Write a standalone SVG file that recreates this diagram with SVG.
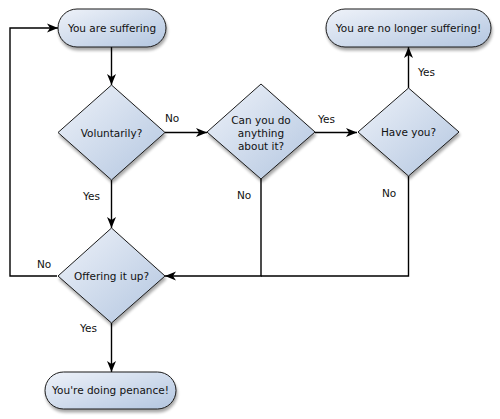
<svg xmlns="http://www.w3.org/2000/svg" width="500" height="419" viewBox="0 0 500 419">
<defs>
<linearGradient id="g" x1="0" y1="0" x2="1" y2="1">
<stop offset="0" stop-color="#eef2f9"/>
<stop offset="1" stop-color="#b3c6e0"/>
</linearGradient>
<filter id="sh" x="-20%" y="-20%" width="150%" height="160%">
<feGaussianBlur in="SourceAlpha" stdDeviation="1.5"/>
<feOffset dx="1" dy="3" result="b"/>
<feComponentTransfer><feFuncA type="linear" slope="0.35"/></feComponentTransfer>
<feMerge><feMergeNode/><feMergeNode in="SourceGraphic"/></feMerge>
</filter>
<marker id="ah" markerWidth="12" markerHeight="10" refX="11" refY="5" orient="auto" markerUnits="userSpaceOnUse">
<path d="M0,0.5 L11,5 L0,9.5 L3,5 z" fill="#000"/>
</marker>
</defs>
<style>
.n{fill:url(#g);stroke:#1a1a1a;stroke-width:1;filter:url(#sh)}
.t{font-family:"DejaVu Sans",sans-serif;font-size:10.5px;fill:#111;text-anchor:middle}
.l{font-family:"DejaVu Sans",sans-serif;font-size:10.5px;fill:#111}
.c{fill:none;stroke:#000;stroke-width:1.4}
</style>
<rect width="500" height="419" fill="#fff"/>
<g id="connectors">
<path class="c" d="M111.5,47 L111.5,85" marker-end="url(#ah)"/>
<path class="c" d="M165,132.5 L207,132.5" marker-end="url(#ah)"/>
<path class="c" d="M315,132.5 L357,132.5" marker-end="url(#ah)"/>
<path class="c" d="M408.5,88 L408.5,47" marker-end="url(#ah)"/>
<path class="c" d="M111.5,180 L111.5,228" marker-end="url(#ah)"/>
<path class="c" d="M261,179 L261,276 L165,276" marker-end="url(#ah)"/>
<path class="c" d="M408.5,176 L408.5,276 L261,276"/>
<path class="c" d="M57,276 L10,276 L10,28 L58,28" marker-end="url(#ah)"/>
<path class="c" d="M111.5,323 L111.5,372" marker-end="url(#ah)"/>
<text class="l" x="165" y="122">No</text>
<text class="l" x="318" y="123">Yes</text>
<text class="l" x="418" y="76">Yes</text>
<text class="l" x="83" y="200">Yes</text>
<text class="l" x="237" y="199">No</text>
<text class="l" x="382" y="197">No</text>
<text class="l" x="37" y="268">No</text>
<text class="l" x="80" y="332">Yes</text>
</g>
<g id="start">
<rect class="n" x="58" y="9" width="108" height="38" rx="19"/>
<text class="t" x="112" y="32">You are suffering</text>
</g>
<g id="voluntarily">
<path class="n" d="M111.5,85 L165,132.5 L111.5,180 L58,132.5 z"/>
<text class="t" x="111.5" y="136.5">Voluntarily?</text>
</g>
<g id="can">
<path class="n" d="M261,84 L315,132 L261,179 L207,132 z"/>
<text class="t" x="261" y="124">Can you do</text>
<text class="t" x="261" y="137">anything</text>
<text class="t" x="261" y="150">about it?</text>
</g>
<g id="have">
<path class="n" d="M408.5,88 L459,132 L408.5,176 L358,132 z"/>
<text class="t" x="408.5" y="136">Have you?</text>
</g>
<g id="nolonger">
<rect class="n" x="326" y="9" width="165" height="38" rx="19"/>
<text class="t" x="408.5" y="32">You are no longer suffering!</text>
</g>
<g id="offering">
<path class="n" d="M111.5,228 L165,276 L111.5,323 L58,276 z"/>
<text class="t" x="111.5" y="280">Offering it up?</text>
</g>
<g id="penance">
<rect class="n" x="45" y="372" width="131" height="37" rx="18.5"/>
<text class="t" x="110.5" y="394">You're doing penance!</text>
</g>
</svg>
